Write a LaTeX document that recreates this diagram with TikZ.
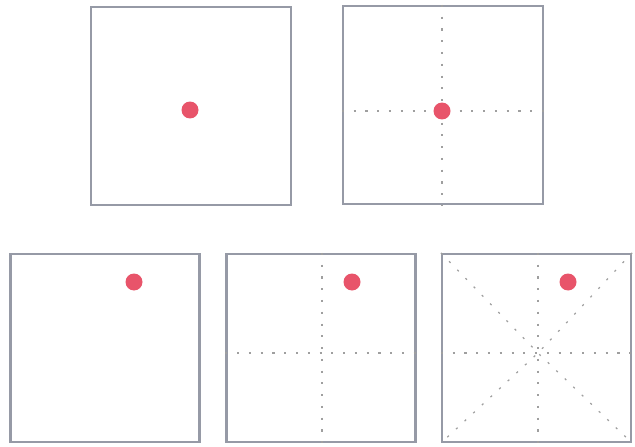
\documentclass[tikz,border=0pt]{standalone}
\usetikzlibrary{calc}
\definecolor{panelgray}{RGB}{150,154,166}
\definecolor{spotred}{RGB}{232,84,106}

\begin{document}
\begin{tikzpicture}[x=0.02cm,y=-0.02cm,
  panel/.style={draw=panelgray,line width=1.3pt,inner sep=0pt,minimum width=4cm,minimum height=3.96cm},
  small panel/.style={panel,minimum width=3.78cm,minimum height=3.76cm},
  spot/.style={circle,fill=spotred,inner sep=0pt,minimum size=0.34cm},
  guide/.style={gray!75,line width=0.7pt,dash pattern=on 1.2pt off 5.5pt}]
  \useasboundingbox (0,0) rectangle (635,446);
  % top row
  \node[panel] (p1) at (191,106) {};
  \node[panel] (p2) at (443,105) {};
  % bottom row
  \node[small panel] (p3) at (105,348) {};
  \node[small panel] (p4) at (321,348) {};
  \node[small panel] (p5) at (536.5,348) {};
  % crossing points of the guides
  \coordinate (c2) at (442,111);
  \coordinate (c4) at (322,353);
  \coordinate (c5) at (538,353);
  % guides
  \draw[guide] (c2 |- p2.north) -- (c2 |- p2.south);
  \draw[guide] (p2.west |- c2) -- (p2.east |- c2);
  \draw[guide] (c4 |- p4.north) -- (c4 |- p4.south);
  \draw[guide] (p4.west |- c4) -- (p4.east |- c4);
  \draw[guide] (c5 |- p5.north) -- (c5 |- p5.south);
  \draw[guide] (p5.west |- c5) -- (p5.east |- c5);
  \draw[guide] (p5.north west) -- (c5) -- (p5.south east);
  \draw[guide] (p5.north east) -- (c5) -- (p5.south west);
  % spots
  \node[spot] (s1) at (190,110) {};
  \node[spot] (s2) at (c2) {};
  \node[spot] (s3) at (134,282) {};
  \node[spot] (s4) at (352,282) {};
  \node[spot] (s5) at (568,282) {};
\end{tikzpicture}
\end{document}
